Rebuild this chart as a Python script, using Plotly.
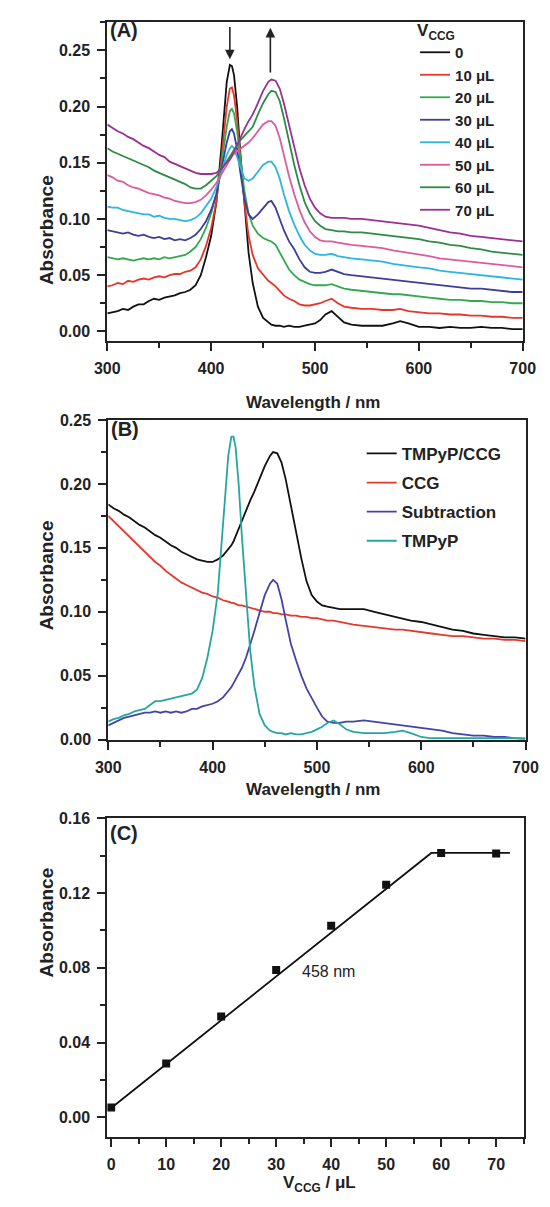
import plotly.graph_objects as go

# ---------------- DATA ----------------
wavelength = [300,305,310,315,320,325,330,335,340,345,350,355,360,365,370,375,380,385,390,395,400,
              405,410,415,418,420,422,425,428,432,436,440,445,450,455,458,462,466,470,475,480,
              485,490,495,500,505,510,516,522,528,535,545,555,565,575,582,590,600,610,620,630,
              640,650,660,670,680,690,700]

a_0uL = [0.016,0.017,0.018,0.020,0.019,0.022,0.024,0.024,0.027,0.029,0.028,0.030,0.031,0.032,0.034,0.035,0.037,0.041,0.050,0.066,0.085,
         0.115,0.165,0.222,0.237,0.236,0.228,0.200,0.160,0.112,0.070,0.043,0.022,0.012,0.008,0.006,0.005,0.005,0.004,0.005,0.004,
         0.004,0.005,0.006,0.007,0.010,0.015,0.018,0.013,0.008,0.006,0.005,0.005,0.005,0.007,0.009,0.007,0.004,0.004,0.003,0.004,
         0.003,0.003,0.004,0.003,0.003,0.002,0.002]
a_10uL = [0.040,0.041,0.043,0.042,0.045,0.044,0.046,0.047,0.046,0.048,0.049,0.048,0.050,0.051,0.051,0.053,0.054,0.057,0.064,0.076,0.092,
          0.115,0.155,0.200,0.216,0.217,0.210,0.188,0.155,0.115,0.085,0.068,0.056,0.050,0.045,0.043,0.040,0.036,0.032,0.029,0.027,
          0.024,0.023,0.023,0.024,0.025,0.027,0.029,0.025,0.022,0.021,0.020,0.020,0.019,0.019,0.020,0.018,0.017,0.016,0.016,0.015,
          0.015,0.014,0.014,0.013,0.013,0.012,0.012]
a_20uL = [0.066,0.065,0.064,0.065,0.064,0.063,0.064,0.065,0.064,0.065,0.064,0.066,0.065,0.066,0.067,0.068,0.071,0.075,0.082,0.092,0.105,
          0.122,0.150,0.182,0.196,0.198,0.194,0.178,0.155,0.125,0.105,0.094,0.087,0.083,0.081,0.080,0.077,0.070,0.063,0.055,0.050,
          0.046,0.044,0.042,0.041,0.041,0.041,0.042,0.040,0.038,0.037,0.036,0.035,0.034,0.033,0.033,0.032,0.031,0.030,0.029,0.028,
          0.028,0.027,0.027,0.026,0.026,0.025,0.025]
a_30uL = [0.090,0.089,0.088,0.087,0.088,0.086,0.085,0.086,0.084,0.083,0.084,0.082,0.083,0.081,0.082,0.081,0.083,0.086,0.091,0.098,0.108,
          0.122,0.145,0.168,0.178,0.180,0.176,0.162,0.142,0.118,0.104,0.100,0.104,0.110,0.115,0.116,0.110,0.100,0.090,0.080,0.073,
          0.064,0.057,0.053,0.052,0.052,0.053,0.055,0.053,0.051,0.050,0.049,0.048,0.047,0.046,0.045,0.044,0.043,0.042,0.041,0.040,
          0.039,0.038,0.038,0.037,0.036,0.035,0.035]
a_40uL = [0.111,0.110,0.110,0.108,0.107,0.106,0.105,0.104,0.104,0.102,0.103,0.101,0.100,0.100,0.099,0.098,0.099,0.101,0.105,0.111,0.118,
          0.128,0.142,0.157,0.163,0.165,0.163,0.155,0.145,0.136,0.134,0.136,0.142,0.148,0.151,0.151,0.146,0.136,0.122,0.107,0.095,
          0.085,0.077,0.072,0.069,0.068,0.068,0.069,0.067,0.066,0.065,0.064,0.063,0.062,0.060,0.059,0.058,0.057,0.056,0.054,0.053,
          0.052,0.051,0.050,0.049,0.048,0.047,0.046]
a_50uL = [0.139,0.137,0.134,0.133,0.130,0.128,0.127,0.125,0.123,0.122,0.121,0.119,0.118,0.116,0.115,0.114,0.114,0.115,0.117,0.121,0.126,
          0.132,0.140,0.148,0.153,0.156,0.158,0.160,0.162,0.165,0.168,0.172,0.178,0.184,0.187,0.187,0.183,0.172,0.157,0.138,0.122,
          0.108,0.097,0.089,0.084,0.081,0.080,0.080,0.079,0.078,0.077,0.076,0.075,0.074,0.072,0.071,0.070,0.068,0.067,0.065,0.064,
          0.063,0.062,0.061,0.060,0.059,0.058,0.057]
a_60uL = [0.163,0.160,0.158,0.156,0.154,0.152,0.150,0.148,0.146,0.143,0.141,0.139,0.137,0.135,0.133,0.131,0.128,0.127,0.127,0.130,0.134,
          0.138,0.144,0.151,0.155,0.158,0.161,0.165,0.170,0.174,0.178,0.182,0.193,0.203,0.211,0.214,0.213,0.205,0.190,0.168,0.148,
          0.130,0.115,0.105,0.098,0.094,0.091,0.090,0.089,0.089,0.088,0.088,0.087,0.086,0.085,0.084,0.083,0.082,0.080,0.079,0.077,
          0.076,0.074,0.073,0.071,0.070,0.069,0.068]
a_70uL = [0.184,0.181,0.178,0.176,0.173,0.171,0.168,0.165,0.163,0.160,0.157,0.155,0.151,0.149,0.147,0.145,0.143,0.141,0.140,0.140,0.140,
          0.141,0.145,0.150,0.153,0.156,0.160,0.166,0.173,0.180,0.187,0.193,0.203,0.214,0.222,0.224,0.223,0.216,0.203,0.183,0.163,
          0.145,0.130,0.118,0.110,0.105,0.102,0.101,0.101,0.101,0.100,0.100,0.099,0.098,0.097,0.096,0.095,0.094,0.092,0.090,0.088,
          0.087,0.085,0.084,0.083,0.082,0.081,0.080]

b_tmpyp_ccg = [0.184,0.181,0.179,0.176,0.174,0.171,0.168,0.166,0.163,0.160,0.158,0.155,0.152,0.150,0.147,0.145,0.143,0.141,0.140,0.139,0.139,
               0.141,0.144,0.149,0.152,0.155,0.159,0.165,0.172,0.180,0.187,0.194,0.204,0.214,0.222,0.225,0.224,0.217,0.204,0.183,0.162,
               0.142,0.124,0.113,0.108,0.105,0.104,0.103,0.102,0.102,0.102,0.102,0.100,0.098,0.096,0.094,0.093,0.092,0.090,0.088,0.086,
               0.085,0.083,0.082,0.081,0.080,0.080,0.079]
b_ccg = [0.175,0.171,0.167,0.163,0.159,0.155,0.151,0.147,0.143,0.139,0.136,0.132,0.129,0.126,0.123,0.121,0.119,0.117,0.115,0.114,0.112,
         0.111,0.109,0.108,0.107,0.107,0.106,0.105,0.105,0.104,0.103,0.102,0.101,0.100,0.100,0.099,0.099,0.098,0.098,0.097,0.097,
         0.096,0.096,0.095,0.095,0.094,0.093,0.093,0.092,0.091,0.090,0.089,0.088,0.087,0.086,0.086,0.085,0.084,0.083,0.082,0.081,
         0.081,0.080,0.079,0.079,0.078,0.078,0.077]
b_subtraction = [0.011,0.013,0.015,0.017,0.018,0.019,0.020,0.021,0.021,0.022,0.021,0.022,0.021,0.022,0.021,0.022,0.024,0.024,0.026,0.027,0.028,
                 0.030,0.033,0.038,0.041,0.044,0.047,0.051,0.056,0.064,0.074,0.085,0.099,0.113,0.122,0.125,0.122,0.110,0.094,0.075,0.062,
                 0.050,0.040,0.032,0.025,0.018,0.014,0.013,0.013,0.014,0.014,0.015,0.014,0.013,0.012,0.011,0.010,0.009,0.008,0.007,0.005,
                 0.004,0.003,0.003,0.002,0.002,0.001,0.000]
b_tmpyp = [0.014,0.016,0.017,0.019,0.020,0.022,0.023,0.024,0.027,0.030,0.030,0.031,0.032,0.033,0.034,0.035,0.036,0.039,0.048,0.064,0.085,
           0.115,0.165,0.222,0.237,0.237,0.229,0.200,0.160,0.112,0.070,0.042,0.020,0.011,0.007,0.006,0.005,0.005,0.004,0.005,0.004,
           0.004,0.005,0.006,0.008,0.010,0.013,0.015,0.012,0.008,0.006,0.005,0.005,0.005,0.006,0.007,0.005,0.002,0.001,0.001,0.001,
           0.001,0.001,0.001,0.001,0.001,0.001,0.001]

v_ccg = [0, 10, 20, 30, 40, 50, 60, 70]
abs_458 = [0.0052, 0.0288, 0.0540, 0.0788, 0.1025, 0.1245, 0.1415, 0.1412]
fit_x = [0, 58.2, 72.5]
fit_y = [0.0050, 0.1415, 0.1415]

a_labels = ["0", "10 μL", "20 μL", "30 μL", "40 μL", "50 μL", "60 μL", "70 μL"]
a_colors = ["#111111", "#e8352b", "#35a84f", "#3d3d9c", "#2bb5e0", "#dc5aa0", "#2e8b45", "#9a3192"]
b_labels = ["TMPyP/CCG", "CCG", "Subtraction", "TMPyP"]
b_colors = ["#111111", "#e5382c", "#4343aa", "#25a6a0"]

FONT = "Liberation Sans, Arial, sans-serif"
INK = "#222222"

fig = go.Figure()

a_series = [a_0uL, a_10uL, a_20uL, a_30uL, a_40uL, a_50uL, a_60uL, a_70uL]
for ys, lab, col in zip(a_series, a_labels, a_colors):
    fig.add_trace(go.Scatter(x=wavelength, y=ys, mode="lines", name=lab,
                             line=dict(color=col, width=1.8), xaxis="x", yaxis="y",
                             legend="legend"))

b_series = [b_tmpyp_ccg, b_ccg, b_subtraction, b_tmpyp]
for ys, lab, col in zip(b_series, b_labels, b_colors):
    fig.add_trace(go.Scatter(x=wavelength, y=ys, mode="lines", name=lab,
                             line=dict(color=col, width=1.8), xaxis="x2", yaxis="y2",
                             legend="legend2", legendgroup=lab))

fig.add_trace(go.Scatter(x=fit_x, y=fit_y, mode="lines", line=dict(color="#111111", width=1.8),
                         xaxis="x3", yaxis="y3", showlegend=False))
fig.add_trace(go.Scatter(x=v_ccg, y=abs_458, mode="markers",
                         marker=dict(symbol="square", size=8, color="#111111"),
                         xaxis="x3", yaxis="y3", showlegend=False))

H = 1207.0
W = 550.0
def py(px):
    return 1 - px / H

axis_common = dict(showline=True, linewidth=2, linecolor=INK, mirror=True,
                   ticks="outside", ticklen=8, tickwidth=2, tickcolor=INK,
                   showgrid=False, zeroline=False, ticklabelstandoff=4,
                   tickfont=dict(family=FONT, size=16, color=INK, weight="bold"))
def minor(d):
    return dict(ticks="outside", ticklen=5, tickwidth=2, dtick=d, tickcolor=INK)

fig.update_layout(
    width=550, height=1207, margin=dict(l=0, r=0, t=0, b=0),
    paper_bgcolor="white", plot_bgcolor="white",
    xaxis=dict(domain=[99 / W, 535 / W], range=[300, 700], anchor="y", dtick=100,
               minor=minor(50), **axis_common),
    yaxis=dict(domain=[py(338), py(14)], range=[-0.0088, 0.2754], anchor="x", dtick=0.05, tickformat=".2f",
               minor=minor(0.025), **axis_common),
    xaxis2=dict(domain=[100 / W, 538 / W], range=[300, 700], anchor="y2", dtick=100,
                minor=minor(50), **axis_common),
    yaxis2=dict(domain=[py(742), py(418)], range=[0, 0.25], anchor="x2", dtick=0.05, tickformat=".2f",
                minor=minor(0.025), **axis_common),
    xaxis3=dict(domain=[99 / W, 536 / W], range=[-0.7, 75], anchor="y3", dtick=10,
                minor=minor(5), **axis_common),
    yaxis3=dict(domain=[py(1145), py(822)], range=[-0.0105, 0.16], anchor="x3", dtick=0.04, tickformat=".2f",
                minor=minor(0.02), **axis_common),
    legend=dict(x=422 / W, y=py(6), xanchor="left", yanchor="top", bgcolor="rgba(0,0,0,0)",
                font=dict(family=FONT, size=15, color=INK, weight="bold"),
                title=dict(text="V<sub>CCG</sub>", side="top",
                           font=dict(family=FONT, size=17, color=INK, weight="bold")),
                itemwidth=30, tracegroupgap=0),
    legend2=dict(x=366 / W, y=py(434), xanchor="left", yanchor="top", bgcolor="rgba(0,0,0,0)",
                 font=dict(family=FONT, size=17, color=INK, weight="bold"),
                 itemwidth=30, tracegroupgap=4),
)

ann_font = dict(family=FONT, size=20, color=INK, weight="bold")
title_font = dict(family=FONT, size=17, color=INK, weight="bold")
abs_font = dict(family=FONT, size=19, color=INK, weight="bold")
annotations = [
    dict(text="(A)", x=301, y=0.268, xref="x", yref="y", xanchor="left", yanchor="middle", showarrow=False, font=ann_font),
    dict(text="(B)", x=301, y=0.243, xref="x2", yref="y2", xanchor="left", yanchor="middle", showarrow=False, font=ann_font),
    dict(text="(C)", x=-0.5, y=0.152, xref="x3", yref="y3", xanchor="left", yanchor="middle", showarrow=False, font=ann_font),
    dict(text="458 nm", x=34.3, y=0.078, xref="x3", yref="y3", xanchor="left", yanchor="middle", showarrow=False,
         font=dict(family=FONT, size=16, color=INK)),
    # arrows in (A)
    dict(text="", x=418, y=0.242, ax=418, ay=0.272, xref="x", yref="y", axref="x", ayref="y",
         showarrow=True, arrowhead=2, arrowsize=1.2, arrowwidth=1.6, arrowcolor=INK),
    dict(text="", x=457, y=0.270, ax=457, ay=0.229, xref="x", yref="y", axref="x", ayref="y",
         showarrow=True, arrowhead=2, arrowsize=1.2, arrowwidth=1.6, arrowcolor=INK),
    # axis titles
    dict(text="Wavelength / nm", x=315 / W, y=py(388), xref="paper", yref="paper", showarrow=False, font=title_font),
    dict(text="Wavelength / nm", x=315 / W, y=py(793), xref="paper", yref="paper", showarrow=False, font=title_font),
    dict(text="V<sub>CCG</sub> / μL", x=322 / W, y=py(1206), xref="paper", yref="paper", yanchor="bottom",
         showarrow=False, font=title_font),
    dict(text="Absorbance", x=22 / W, y=py(167), xref="paper", yref="paper", showarrow=False, textangle=-90, font=abs_font),
    dict(text="Absorbance", x=22 / W, y=py(575), xref="paper", yref="paper", showarrow=False, textangle=-90, font=abs_font),
    dict(text="Absorbance", x=22 / W, y=py(985), xref="paper", yref="paper", showarrow=False, textangle=-90, font=abs_font),
]
fig.update_layout(annotations=annotations)

fig.write_html("out.html")
